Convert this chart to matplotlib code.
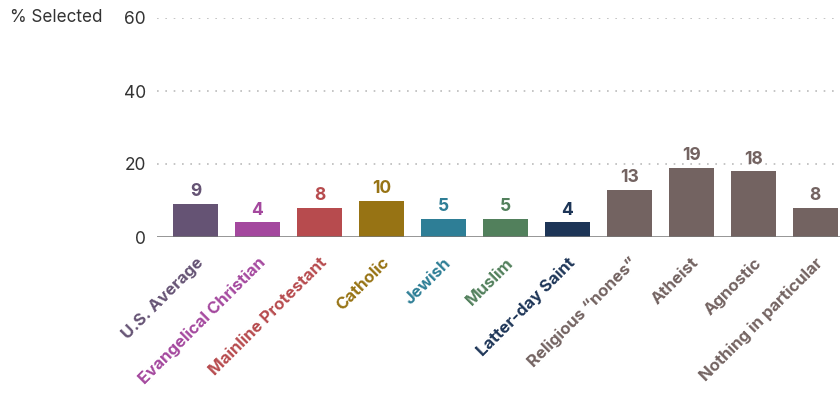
import matplotlib
matplotlib.use("Agg")
import matplotlib.pyplot as plt

categories = ["U.S. Average", "Evangelical Christian", "Mainline Protestant", "Catholic",
              "Jewish", "Muslim", "Latter-day Saint", "Religious \u201cnones\u201d",
              "Atheist", "Agnostic", "Nothing in particular"]
values = [9, 4, 8, 10, 5, 5, 4, 13, 19, 18, 8]
colors = ["#655374", "#A4489E", "#B74B4E", "#977314", "#2E7E96", "#52805C",
          "#1D3557", "#736361", "#736361", "#736361", "#736361"]
yticks = [0, 20, 40, 60]

plt.rcParams["font.family"] = ["Inter", "DejaVu Sans"]

fig = plt.figure(figsize=(8.4, 3.93), dpi=100)
ax = fig.add_axes([157 / 840, (393 - 237) / 393, 1 - 157 / 840, (237 - 18) / 393])

x = list(range(len(categories)))
ax.bar(x, values, width=0.72, color=colors, zorder=2)

for xi, v, c in zip(x, values, colors):
    ax.text(xi, v + 1.0, str(v), ha="center", va="bottom", color=c,
            fontsize=12.5, fontweight="bold")

ax.set_xlim(-0.62, 10.4)
ax.set_ylim(0, 60)
ax.set_yticks(yticks)
ax.set_yticklabels([str(t) for t in yticks], fontsize=12.5, color="#333333")
for t in yticks[1:]:
    ax.axhline(t, color="#BBBBBB", linestyle=(0, (1, 4)), linewidth=1.2, zorder=1)
ax.axhline(0, color="#777777", linewidth=1.8, zorder=3)

# Category names, rotated and coloured like their bars
ax.set_xticks(x)
ax.set_xticklabels([])
for xi, name, c in zip(x, categories, colors):
    ax.annotate(name, xy=(xi, 0), xycoords="data", xytext=(0, -18),
                textcoords="offset pixels", rotation=45, rotation_mode="anchor",
                ha="right", va="top", fontsize=12.1, fontweight="bold", color=c,
                annotation_clip=False)

ax.tick_params(axis="both", length=0)
ax.tick_params(axis="y", pad=8)
for s in ax.spines.values():
    s.set_visible(False)

fig.text(10 / 840, 1 - 18 / 393, "% Selected", ha="left", va="center",
         fontsize=12.3, color="#333333")

fig.savefig("out.png", dpi=100)
